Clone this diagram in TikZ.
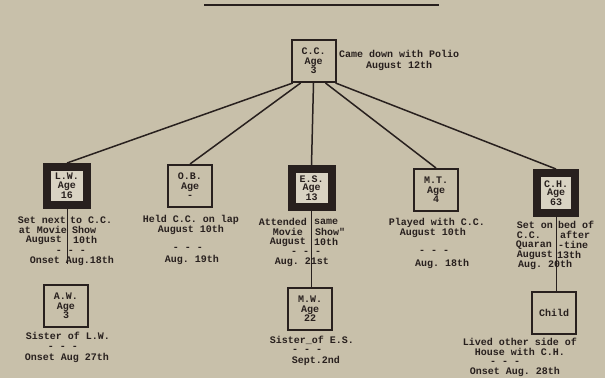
\documentclass[tikz,border=0pt]{standalone}
\usepackage{fontspec}
\setmonofont{Liberation Mono}
\usetikzlibrary{calc}
\definecolor{paper}{RGB}{200,192,170}
\definecolor{ink}{RGB}{40,32,30}
\begin{document}
\begin{tikzpicture}[x=1pt,y=-1pt,
  every node/.style={font=\ttfamily\bfseries\fontsize{10}{9.5}\selectfont, text=ink, inner sep=0pt},
  person/.style={draw=ink, line width=2pt, minimum width=44pt, minimum height=42pt, align=center, fill=paper},
  keyperson/.style={draw=ink, line width=8pt, minimum width=40pt, minimum height=38pt, align=center, fill=paper!70!white, font=\ttfamily\bfseries\fontsize{10}{8.7}\selectfont},
  note/.style={align=center, font=\ttfamily\bfseries\fontsize{10}{10}\selectfont},
  link/.style={draw=ink, line width=1.5pt}]
\fill[paper] (0,0) rectangle (605,378);
\path[use as bounding box] (0,0) rectangle (605,378);
% top rule
\coordinate (tl) at (204,5);
\coordinate (tr) at (439,5);
\draw[ink, line width=1.8pt] (tl) -- (tr);
% boxes
\node[person] (cc) at (313.5,61) {C.C.\\Age\\3};
\node[note, anchor=west, font=\ttfamily\bfseries\fontsize{10}{11}\selectfont] (ccn) at (339,60) {Came down with Polio\\August 12th};
\node[keyperson] (lw) at (67,186) {L.W.\\Age\\16};
\node[person] (ob) at (190,186) {O.B.\\Age\\-};
\node[keyperson] (es) at (311.5,188) {E.S.\\Age\\13};
\node[person] (mt) at (436,190) {M.T.\\Age\\4};
\node[keyperson, minimum height=40pt, minimum width=38pt] (ch) at (556,193) {C.H.\\Age\\63};
\node[person] (aw) at (66,306) {A.W.\\Age\\3};
\node[person] (mw) at (310,309) {M.W.\\Age\\22};
\node[person] (child) at (554,312.5) {Child};
% L.W. notes
\node[anchor=east] (lw1a) at (66,220) {Set next};
\node[anchor=west] (lw1b) at (70,220) {to C.C.};
\node[anchor=east] (lw2a) at (67,230) {at Movie};
\node[anchor=west] (lw2b) at (72,230) {Show};
\node[anchor=east] (lw3a) at (62,240) {August};
\node[anchor=west] (lw3b) at (73,240) {10th};
\node (lwd) at (71,251.5) {- - -};
\node (lwo) at (72,261) {Onset Aug.18th};
% O.B. notes
\node[note] (obn) at (191,225) {Held C.C. on lap\\August 10th};
\node (obd) at (188,249) {- - -};
\node (obo) at (192,260) {Aug. 19th};
% E.S. notes
\node[anchor=east] (es1a) at (307,222) {Attended};
\node[anchor=west] (es1b) at (314,222) {same};
\node[anchor=east] (es2a) at (303,232) {Movie};
\node[anchor=west] (es2b) at (315,232) {Show"};
\node[anchor=east] (es3a) at (306,242) {August};
\node[anchor=west] (es3b) at (314,242) {10th};
\node (esd) at (306,252.5) {- - -};
\node (eso) at (302,262) {Aug. 21st};
% M.T. notes
\node (mt1) at (437,223) {Played with C.C.};
\node (mt2) at (433,233) {August 10th};
\node (mtd) at (434,252) {- - -};
\node (mto) at (442,264) {Aug. 18th};
% C.H. notes
\node[anchor=east] (ch1a) at (553,225) {Set on};
\node[anchor=west] (ch1b) at (558,225) {bed of};
\node[anchor=east] (ch2a) at (541,235) {C.C.};
\node[anchor=west] (ch2b) at (560,235) {after};
\node[anchor=east] (ch3a) at (552,245) {Quaran};
\node[anchor=west] (ch3b) at (558,245) {-tine};
\node[anchor=east] (ch4a) at (553,255) {August};
\node[anchor=west] (ch4b) at (557,255) {13th};
\node (cho) at (545,265) {Aug. 20th};
% A.W. notes
\node (aw1) at (68,335.5) {Sister of L.W.};
\node (awd) at (63,347.5) {- - -};
\node (awo) at (67,357.5) {Onset Aug 27th};
% M.W. notes
\node (mw1) at (312,340) {Sister\_of E.S.};
\node (mwd) at (307,351) {- - -};
\node (mwo) at (316,361) {Sept.2nd};
% Child notes
\node[note] (chn) at (520,346.5) {Lived other side of\\House with C.H.};
\node (chd) at (505,363) {- - -};
\node (cho2) at (515,372) {Onset Aug. 28th};
% connectors
\draw[link] ($(cc.south west)!0.05!(cc.south east)$) -- (lw.north);
\draw[link] ($(cc.south west)!0.22!(cc.south east)$) -- (ob.north);
\draw[link] (cc.south) -- (es.north);
\draw[link] ($(cc.south west)!0.76!(cc.south east)$) -- (mt.north);
\draw[link] ($(cc.south west)!0.98!(cc.south east)$) -- (ch.north);
\coordinate (lwend) at (67,264);
\draw[link, line width=1pt] (lw.south) -- (lwend);
\draw[link, line width=1pt] (es.south) -- (mw.north -| es.south);
\draw[link, line width=1pt] (ch.south) -- (child.north -| ch.south);
\end{tikzpicture}
\end{document}
